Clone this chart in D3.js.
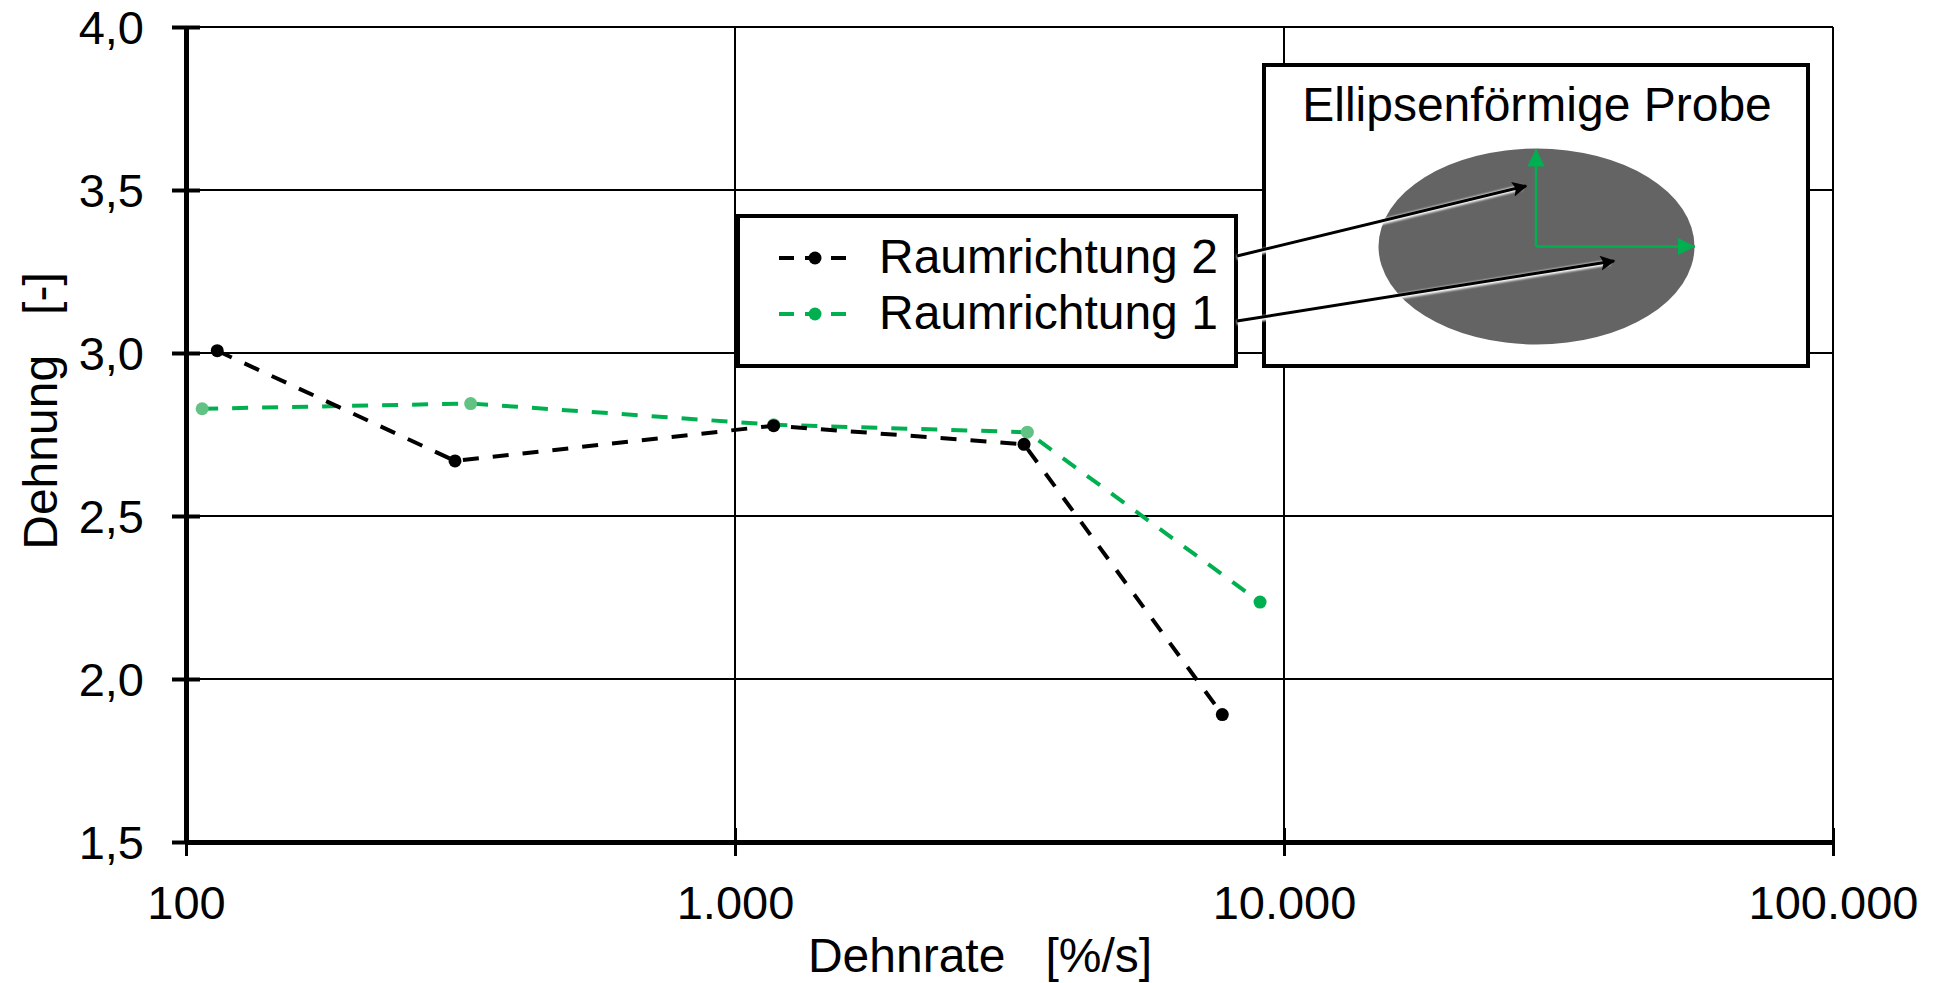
<!DOCTYPE html>
<html>
<head>
<meta charset="utf-8">
<script src="https://cdn.jsdelivr.net/npm/d3@7"></script>
<style>
  body { margin: 0; background: #fff; }
  text { font-family: "Liberation Sans", Arial, sans-serif; fill: #000; }
</style>
</head>
<body>
<script>
// data
const xTicks = [100, 1000, 10000, 100000];
const yTicks = [1.5, 2.0, 2.5, 3.0, 3.5, 4.0];

const rate2 = [114, 309, 1176, 3361, 7720];        // Raumrichtung 2
const strain2 = [3.007, 2.669, 2.777, 2.720, 1.891];
const rate1 = [107, 330, 1176, 3408, 9044];        // Raumrichtung 1
const strain1 = [2.829, 2.845, 2.780, 2.757, 2.236];

const seriesNames = ["Raumrichtung 2", "Raumrichtung 1"];

const width = 1941;
const height = 983;
const fontSize = 47;

const de = d3.formatLocale({decimal: ",", thousands: ".", grouping: [3], currency: ["", " €"]});

const x = d3.scaleLog()
	.domain([100, 100000])
	.range([186, 1833]);

const y = d3.scaleLinear()
	.domain([1.5, 4])
	.range([842, 27]);

const svg = d3.select("body")
	.append("svg")
		.attr("width", width)
		.attr("height", height);

// gridlines
svg.append("g")
	.selectAll("line")
	.data(yTicks.filter(d => d > 1.5))
	.join("line")
		.attr("x1", x(100))
		.attr("x2", x(100000))
		.attr("y1", d => y(d))
		.attr("y2", d => y(d))
		.attr("stroke", "#000")
		.attr("stroke-width", 2);

svg.append("g")
	.selectAll("line")
	.data(xTicks.filter(d => d > 100))
	.join("line")
		.attr("x1", d => x(d))
		.attr("x2", d => x(d))
		.attr("y1", y(4))
		.attr("y2", y(1.5))
		.attr("stroke", "#000")
		.attr("stroke-width", 2);

// axes
let xAxis = d3.axisBottom(x)
	.tickValues(xTicks)
	.tickFormat(de.format(",d"))
	.tickSize(14)
	.tickPadding(30)
	.tickSizeOuter(0);

let yAxis = d3.axisLeft(y)
	.tickValues(yTicks)
	.tickFormat(de.format(".1f"))
	.tickSize(14)
	.tickPadding(28)
	.tickSizeOuter(0);

let gx = svg.append("g")
		.attr("transform", `translate(0, ${y(1.5)})`)
	.call(xAxis);
gx.select(".domain").attr("stroke-width", 5);
gx.selectAll(".tick line").attr("y1", -14).attr("stroke-width", 3);
gx.selectAll(".tick text")
	.style("font-size", fontSize + "px")
	.attr("dy", "0.71em");

let gy = svg.append("g")
		.attr("transform", `translate(${x(100)}, 0)`)
	.call(yAxis);
gy.select(".domain").attr("stroke-width", 5);
gy.selectAll(".tick line").attr("x1", 14).attr("stroke-width", 4);
gy.selectAll(".tick text")
	.style("font-size", fontSize + "px")
	.attr("dy", "0.36em");

svg.selectAll(".tick text").style("font-family", "'Liberation Sans', Arial, sans-serif");

// axis titles
svg.append("text")
	.attr("x", 980)
	.attr("y", 972)
	.attr("text-anchor", "middle")
	.style("font-size", "48px")
	.attr("xml:space", "preserve")
	.text("Dehnrate   [%/s]");

svg.append("text")
	.attr("transform", "translate(57, 411) rotate(-90)")
	.attr("text-anchor", "middle")
	.style("font-size", "48px")
	.attr("xml:space", "preserve")
	.text("Dehnung   [-]");

// series
const green = "#00b050";
const lightGreen = "#62c284";

let line = d3.line()
	.x(d => x(d[0]))
	.y(d => y(d[1]));

let pts1 = d3.zip(rate1, strain1);
let pts2 = d3.zip(rate2, strain2);

svg.append("path")
	.datum(pts1)
	.attr("d", line)
	.attr("fill", "none")
	.attr("stroke", green)
	.attr("stroke-width", 4)
	.attr("stroke-dasharray", "16,14");

svg.append("g")
	.selectAll("circle")
	.data(pts1)
	.join("circle")
		.attr("cx", d => x(d[0]))
		.attr("cy", d => y(d[1]))
		.attr("r", 6.5)
		.attr("fill", (d, i) => i === pts1.length - 1 ? green : lightGreen);

svg.append("path")
	.datum(pts2)
	.attr("d", line)
	.attr("fill", "none")
	.attr("stroke", "#000")
	.attr("stroke-width", 4)
	.attr("stroke-dasharray", "16,14");

svg.append("g")
	.selectAll("circle")
	.data(pts2)
	.join("circle")
		.attr("cx", d => x(d[0]))
		.attr("cy", d => y(d[1]))
		.attr("r", 6.5)
		.attr("fill", "#000");

// legend
let legend = svg.append("g");
legend.append("rect")
	.attr("x", 738)
	.attr("y", 216)
	.attr("width", 498)
	.attr("height", 150)
	.attr("fill", "#fff")
	.attr("stroke", "#000")
	.attr("stroke-width", 4);

[["#000", "#000"], [green, green]].forEach((c, i) => {
	let ly = 258 + i * 56;
	legend.append("line")
		.attr("x1", 779).attr("x2", 853)
		.attr("y1", ly).attr("y2", ly)
		.attr("stroke", c[0])
		.attr("stroke-width", 4)
		.attr("stroke-dasharray", "15,11");
	legend.append("circle")
		.attr("cx", 815).attr("cy", ly)
		.attr("r", 6.5)
		.attr("fill", c[1]);
	legend.append("text")
		.attr("x", 879)
		.attr("y", ly + 15)
		.style("font-size", "48px")
		.text(seriesNames[i]);
});

// inset: elliptical sample
let inset = svg.append("g");
inset.append("rect")
	.attr("x", 1264)
	.attr("y", 65)
	.attr("width", 544)
	.attr("height", 301)
	.attr("fill", "#fff")
	.attr("stroke", "#000")
	.attr("stroke-width", 4);

inset.append("text")
	.attr("x", 1537)
	.attr("y", 121)
	.attr("text-anchor", "middle")
	.style("font-size", "48px")
	.text("Ellipsenförmige Probe");

inset.append("ellipse")
	.attr("cx", 1536.5)
	.attr("cy", 246.5)
	.attr("rx", 158)
	.attr("ry", 98)
	.attr("fill", "#646464");

let defs = svg.append("defs");
defs.append("marker")
		.attr("id", "gHead")
		.attr("viewBox", "0 0 10 10")
		.attr("refX", 10).attr("refY", 5)
		.attr("markerWidth", 7).attr("markerHeight", 7)
		.attr("markerUnits", "strokeWidth")
		.attr("orient", "auto")
	.append("path")
		.attr("d", "M0,0L10,5L0,10Z")
		.attr("fill", green);

defs.append("marker")
		.attr("id", "kHead")
		.attr("viewBox", "0 0 10 10")
		.attr("refX", 9).attr("refY", 5)
		.attr("markerWidth", 5.5).attr("markerHeight", 5)
		.attr("markerUnits", "strokeWidth")
		.attr("orient", "auto")
	.append("path")
		.attr("d", "M0,0L10,5L0,10L2,5Z")
		.attr("fill", "#000");

defs.append("filter")
		.attr("id", "glow")
		.attr("x", "-10%").attr("y", "-50%")
		.attr("width", "120%").attr("height", "200%")
	.append("feGaussianBlur")
		.attr("stdDeviation", 0.8);

[[1536, 246.5, 1536, 149], [1536, 246.5, 1695, 246.5]].forEach(a => {
	inset.append("line")
		.attr("x1", a[0]).attr("y1", a[1])
		.attr("x2", a[2]).attr("y2", a[3])
		.attr("stroke", green)
		.attr("stroke-width", 2.5)
		.attr("marker-end", "url(#gHead)");
});

// pointer arrows from legend into the ellipse
[[1237, 256, 1526, 186], [1237, 321, 1614, 261]].forEach(a => {
	svg.append("line")
		.attr("x1", a[0]).attr("y1", a[1] + 1.5)
		.attr("x2", a[2] - 4).attr("y2", a[3] + 1.5)
		.attr("stroke", "#fff")
		.attr("stroke-width", 5)
		.attr("filter", "url(#glow)");
	svg.append("line")
		.attr("x1", a[0]).attr("y1", a[1])
		.attr("x2", a[2]).attr("y2", a[3])
		.attr("stroke", "#000")
		.attr("stroke-width", 3)
		.attr("marker-end", "url(#kHead)");
});
</script>
</body>
</html>
